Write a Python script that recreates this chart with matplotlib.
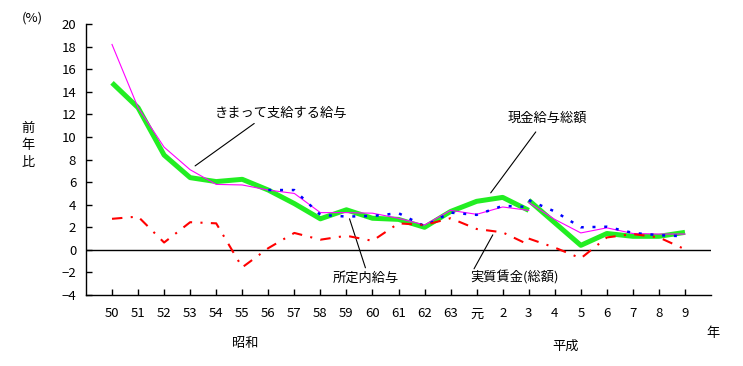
import matplotlib
matplotlib.use("Agg")
import matplotlib.pyplot as plt
import numpy as np

plt.rcParams["font.family"] = ["Noto Sans CJK JP", "DejaVu Sans"]

# ── Data (前年比, %) ──────────────────────────────────────────────────────────
years = ["50", "51", "52", "53", "54", "55", "56", "57", "58", "59", "60",
         "61", "62", "63", "元", "2", "3", "4", "5", "6", "7", "8", "9"]

# first block: 昭和50 .. 平成3, second block: 平成3 .. 9
total_a   = [14.8, 12.6, 8.4, 6.4, 6.05, 6.25, 5.3, 4.1, 2.75, 3.55, 2.8,
             2.7, 2.0, 3.4, 4.3, 4.65, 3.5]
total_b   = [4.4, 2.4, 0.4, 1.45, 1.2, 1.2, 1.55]
regular_a = [18.2, 12.6, 9.1, 7.1, 5.8, 5.75, 5.3, 5.0, 3.3, 3.3, 3.25,
             2.8, 2.2, 3.5, 3.15, 3.8, 3.5]
regular_b = [4.2, 2.7, 1.5, 1.95, 1.45, 1.4, 1.4]
sched_a   = [5.3, 5.3, 3.1, 2.95, 3.0, 3.25, 2.1, 3.3, 3.1, 3.9, 3.8]   # 56 .. 3
sched_b   = [4.4, 3.4, 2.0, 2.05, 1.5, 1.3, 1.2]
real_a    = [2.75, 2.95, 0.65, 2.45, 2.35, -1.55, 0.15, 1.5, 0.9, 1.25, 0.8,
             2.35, 2.2, 2.8, 1.85, 1.55, 0.45]
real_b    = [1.0, 0.2, -0.75, 1.1, 1.4, 1.1, 0.05]

GREEN   = "#22ee22"
MAGENTA = "#ff00ff"
BLUE    = "#0000ff"
RED     = "#ff0000"

x = np.arange(len(years))
xa = x[:17]
xb = x[16:]
xs = x[6:17]

fig = plt.figure(figsize=(7.43, 3.66), dpi=100)
ax = fig.add_axes([0.1157, 0.194, 0.957 - 0.1157, 0.934 - 0.194])

for xx, yy in ((xa, total_a), (xb, total_b)):
    ax.plot(xx, yy, color=GREEN, lw=3.6, solid_capstyle="butt", zorder=2)
for xx, yy in ((xa, regular_a), (xb, regular_b)):
    ax.plot(xx, yy, color=MAGENTA, lw=0.8, zorder=3)
for xx, yy in ((xs, sched_a), (xb, sched_b)):
    ax.plot(xx, yy, color=BLUE, lw=1.8, ls=(0, (1.2, 3.5)), zorder=4)
for xx, yy in ((xa, real_a), (xb, real_b)):
    ax.plot(xx, yy, color=RED, lw=1.5, ls=(0, (5, 4, 1, 4)), zorder=5)

ax.axhline(0, color="black", lw=1.0, zorder=1)

ax.set_xlim(-1, len(years))
ax.set_ylim(-4, 20)
ax.set_yticks(np.arange(-4, 21, 2))
ax.set_xticks(x)
ax.set_xticklabels(years)
ax.tick_params(axis="both", direction="in", length=4, width=1, labelsize=9.5,
               color="black")
ax.tick_params(axis="y", pad=7)
ax.tick_params(axis="x", pad=9)
for s in ("top", "right"):
    ax.spines[s].set_visible(False)
for s in ("left", "bottom"):
    ax.spines[s].set_linewidth(1.0)

# ── Leader-line labels ────────────────────────────────────────────────────────
lbl = dict(fontsize=9.5, va="center", ha="left")
line = dict(arrowstyle="-", color="black", lw=0.8, shrinkA=0, shrinkB=0)
ax.text(3.96, 12.1, "きまって支給する給与", **lbl)
ax.annotate("", xy=(3.19, 7.44), xytext=(5.46, 11.2), arrowprops=line)
ax.text(15.19, 11.7, "現金給与総額", **lbl)
ax.annotate("", xy=(14.54, 5.05), xytext=(16.27, 10.45), arrowprops=line)
ax.text(8.46, -2.48, "所定内給与", **lbl)
ax.annotate("", xy=(9.12, 2.75), xytext=(9.73, -1.59), arrowprops=line)
ax.text(13.77, -2.48, "実質賃金(総額)", **lbl)
ax.annotate("", xy=(14.62, 1.33), xytext=(13.9, -1.68), arrowprops=line)

# ── Figure texts ─────────────────────────────────────────────────────────────
H = 366.0
W = 743.0
fig.text(22 / W, 1 - 18 / H, "(%)", fontsize=9.5, va="center", ha="left")
for i, ch in enumerate("前年比"):
    fig.text(28 / W, 1 - (128 + i * 17) / H, ch, fontsize=9.5,
             va="center", ha="center")
fig.text(245 / W, 1 - 344 / H, "昭和", fontsize=9.5, va="center", ha="center")
fig.text(566 / W, 1 - 346 / H, "平成", fontsize=9.5, va="center", ha="center")
fig.text(713 / W, 1 - 333 / H, "年", fontsize=9.5, va="center", ha="center")

fig.savefig("out.png", dpi=100)
